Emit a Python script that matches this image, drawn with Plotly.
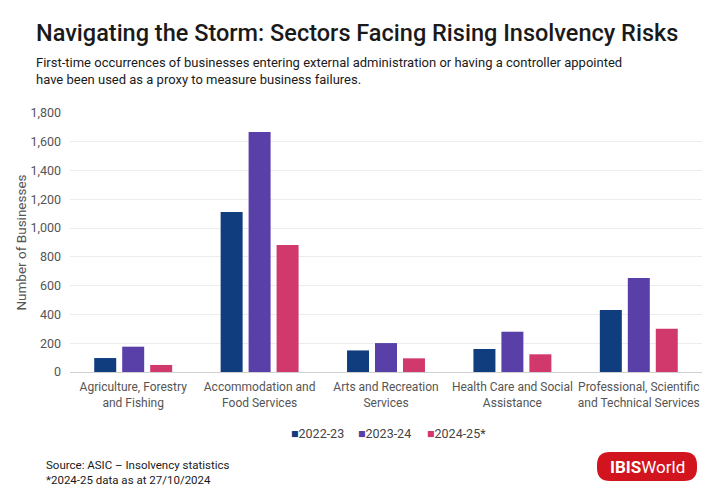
import plotly.graph_objects as go

categories = ["Agriculture, Forestry<br>and Fishing", "Accommodation and<br>Food Services",
              "Arts and Recreation<br>Services", "Health Care and Social<br>Assistance",
              "Professional, Scientific<br>and Technical Services"]
series_names = ["2022-23", "2023-24", "2024-25*"]
values_2022_23 = [97, 1112, 150, 160, 431]
values_2023_24 = [176, 1668, 201, 280, 653]
values_2024_25 = [49, 883, 95, 123, 301]
colors = ["#0F3D7D", "#5840A8", "#D1386C"]

W, H = 720, 501
L, R, T, B = 70, 18, 113, 129
PW, PH = W - L - R, H - T - B

def px(x):
    return (x - L) / PW

def py(y):
    return (H - B - y) / PH

fig = go.Figure()
for name, vals, c in zip(series_names, [values_2022_23, values_2023_24, values_2024_25], colors):
    fig.add_trace(go.Bar(x=categories, y=vals, name=name, marker=dict(color=c, line=dict(width=0))))

fig.update_layout(
    width=W, height=H,
    margin=dict(l=L, r=R, t=T, b=B, autoexpand=False),
    plot_bgcolor="white", paper_bgcolor="white",
    barmode="group", bargap=0.336, bargroupgap=0.214,
    font=dict(family="Roboto, sans-serif", color="#555555"),
    showlegend=False,
    xaxis=dict(showgrid=False, tickfont=dict(size=12, color="#555555"), showline=False,
               ticks="", fixedrange=True, tickangle=0, automargin=False, ticklabelstandoff=6),
    yaxis=dict(range=[0, 1800], dtick=200, tickformat=",", gridcolor="#ECECEC", gridwidth=1,
               zeroline=True, zerolinecolor="#D0D0D0", zerolinewidth=1, automargin=False,
               tickfont=dict(size=12.5, color="#555555"), ticks="", ticklabelstandoff=8,
               title=dict(text="Number of Businesses", font=dict(size=13.5, color="#555555"), standoff=0)),
)

ann = [
    dict(text="Navigating the Storm: Sectors Facing Rising Insolvency Risks", x=px(34), y=py(33),
         xanchor="left", yanchor="middle",
         font=dict(size=23.5, color="#1A1A1A", family="Roboto, sans-serif", weight=500)),
    dict(text="First-time occurrences of businesses entering external administration or having a controller appointed<br>have been used as a proxy to measure business failures.",
         x=px(34), y=py(71), xanchor="left", yanchor="middle", align="left",
         font=dict(size=13, color="#1A1A1A", family="Roboto, sans-serif")),
    dict(text="Source: ASIC – Insolvency statistics<br>*2024-25 data as at 27/10/2024",
         x=px(44), y=py(472.5), xanchor="left", yanchor="middle", align="left",
         font=dict(size=11.5, color="#1A1A1A", family="Roboto, sans-serif")),
    dict(text="<b>IBIS</b>World", x=px(647), y=py(466.5), xanchor="center", yanchor="middle",
         font=dict(size=17, color="white", family="Roboto, sans-serif")),
]
# legend entries (coloured squares + labels)
legend_x = [289, 356, 425]
for name, c, lx in zip(series_names, colors, legend_x):
    ann.append(dict(text=f"<span style='color:{c}'>■</span>{name}", x=px(lx), y=py(433),
                    xanchor="left", yanchor="middle",
                    font=dict(size=12.5, color="#444444", family="Roboto, sans-serif")))
for a in ann:
    a.update(xref="paper", yref="paper", showarrow=False)
fig.update_layout(annotations=ann)

# rounded logo background
x0, x1, y0, y1, r = 597, 697, 452, 481, 13
path = (f"M {px(x0+r)},{py(y0)} L {px(x1-r)},{py(y0)} Q {px(x1)},{py(y0)} {px(x1)},{py(y0+r)} "
        f"L {px(x1)},{py(y1-r)} Q {px(x1)},{py(y1)} {px(x1-r)},{py(y1)} "
        f"L {px(x0+r)},{py(y1)} Q {px(x0)},{py(y1)} {px(x0)},{py(y1-r)} "
        f"L {px(x0)},{py(y0+r)} Q {px(x0)},{py(y0)} {px(x0+r)},{py(y0)} Z")
fig.add_shape(type="path", path=path, xref="paper", yref="paper", fillcolor="#D2141E",
              line=dict(width=0), layer="below")

fig.write_html("out.html", config={"displayModeBar": False},
               post_script="document.body.style.margin='0';document.body.style.padding='0';document.body.style.overflow='hidden';")
